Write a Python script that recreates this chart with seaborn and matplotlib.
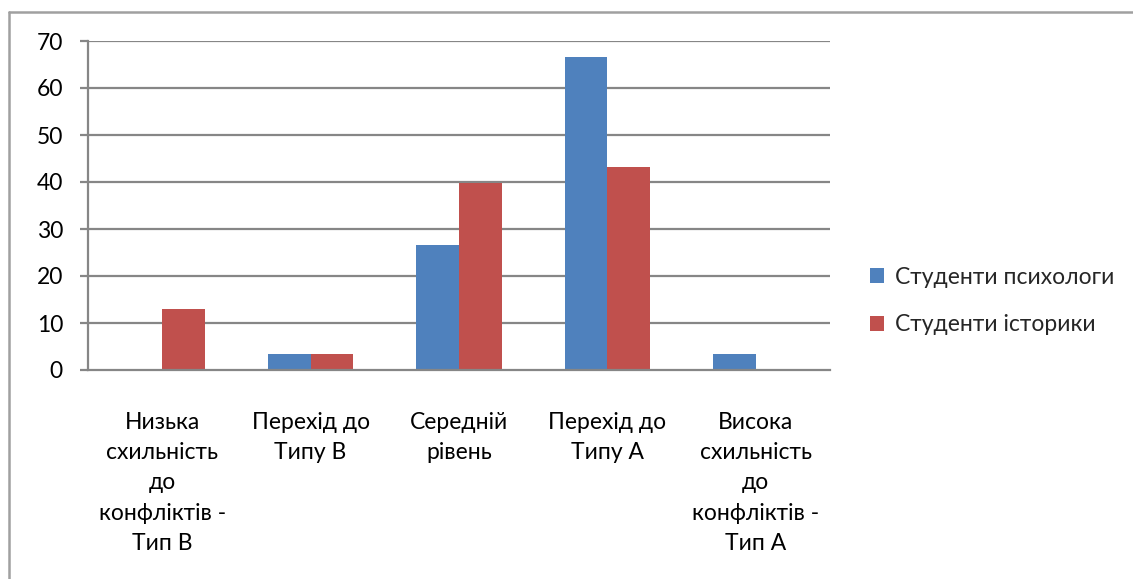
import matplotlib
matplotlib.use("Agg")
import matplotlib.pyplot as plt
from matplotlib.lines import Line2D
from matplotlib.patches import Patch
import seaborn as sns
import pandas as pd

categories = [
    "Низька\nсхильність\nдо\nконфліктів -\nТип В",
    "Перехід до\nТипу В",
    "Середній\nрівень",
    "Перехід до\nТипу А",
    "Висока\nсхильність\nдо\nконфліктів -\nТип А",
]
series_names = ["Студенти психологи", "Студенти історики"]
psychologists = [0, 3.3, 26.6, 66.5, 3.3]
historians = [13, 3.3, 39.7, 43.1, 0]
y_ticks = [0, 10, 20, 30, 40, 50, 60, 70]

colors = ["#4F81BD", "#C0504D"]
grid_col = "#868686"
fs = 16.5

df = pd.DataFrame({
    "category": categories * 2,
    "series": [series_names[0]] * len(categories) + [series_names[1]] * len(categories),
    "value": psychologists + historians,
})

sns.set_theme(style="white")
plt.rcParams["font.family"] = ["Lato", "DejaVu Sans"]

W, H = 1133, 579
fig = plt.figure(figsize=(W / 100, H / 100), dpi=100)
ax = fig.add_axes([88 / W, 1 - 370 / H, (830 - 88) / W, (370 - 41) / H])

sns.barplot(data=df, x="category", y="value", hue="series", order=categories,
            hue_order=series_names, palette=colors, width=0.573, dodge=True,
            gap=0, saturation=1, edgecolor="none", legend=False, ax=ax)

ax.set_xlim(-0.5, len(categories) - 0.5)
ax.set_ylim(0, 70)
ax.set_yticks(y_ticks)
ax.set_yticklabels([str(t) for t in y_ticks])
ax.set_xlabel("")
ax.set_ylabel("")

# horizontal gridlines
for t in y_ticks[1:]:
    ax.axhline(t, color=grid_col, lw=1.6, zorder=0)
ax.set_axisbelow(True)

for side in ["top", "right"]:
    ax.spines[side].set_visible(False)
for side in ["left", "bottom"]:
    ax.spines[side].set_color(grid_col)
    ax.spines[side].set_linewidth(1.6)

# category boundary ticks on the x axis
ax.set_xticks([i - 0.5 for i in range(len(categories) + 1)], minor=True)
ax.tick_params(axis="x", which="minor", length=6, width=1.6, color=grid_col, direction="out")
ax.tick_params(axis="x", which="major", length=0, pad=30, labelsize=fs, labelcolor="#000000")
ax.tick_params(axis="y", which="major", length=6, width=1.6, color=grid_col, direction="out",
               pad=12, labelsize=fs, labelcolor="#000000", left=True)
for lab in ax.get_xticklabels():
    lab.set_linespacing(1.55)
    lab.set_ha("center")
    lab.set_multialignment("center")

handles = [Patch(facecolor=c, edgecolor="none") for c in colors]
fig.legend(handles, series_names, loc="center left",
           bbox_to_anchor=(870 / W, 1 - 301 / H), frameon=False,
           fontsize=fs, handlelength=0.62, handleheight=0.62, handletextpad=0.48,
           labelspacing=1.15, borderaxespad=0, borderpad=0)

# chart area border
fig.add_artist(Line2D([9 / W, 9 / W], [0, 1 - 12 / H], color="#A0A0A0", lw=1.8,
                      transform=fig.transFigure))
fig.add_artist(Line2D([9 / W, 1], [1 - 12 / H, 1 - 12 / H], color="#A0A0A0", lw=1.8,
                      transform=fig.transFigure))

fig.savefig("out.png", dpi=100)
